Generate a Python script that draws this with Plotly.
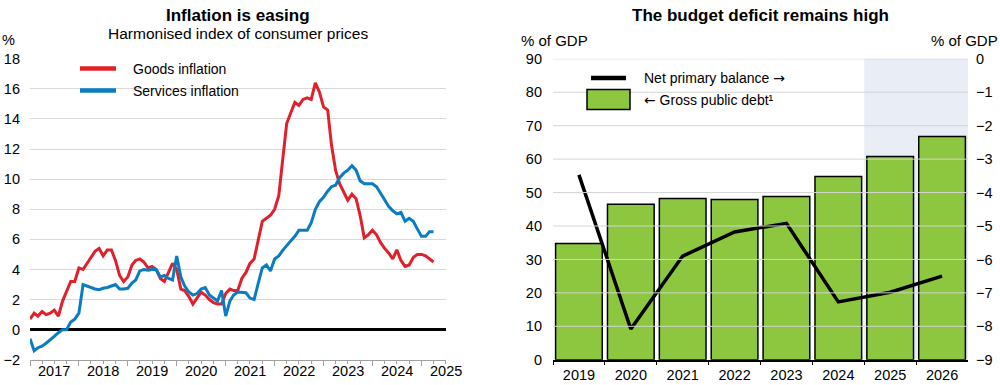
import plotly.graph_objects as go
import pandas as pd

# ---------------- data ----------------
month_start = "2017-01-01"
n_months = 100  # Jan 2017 .. Apr 2025

goods_inflation = [
    0.7, 1.1, 0.9, 1.2, 1.0, 1.1, 1.3, 0.9, 1.9, 2.6, 3.2, 3.2,      # 2017
    4.1, 4.0, 4.4, 4.8, 5.2, 5.4, 4.9, 5.3, 5.3, 4.6, 3.6, 3.2,      # 2018
    3.5, 4.3, 4.6, 4.7, 4.5, 4.1, 4.2, 4.0, 3.4, 3.2, 3.8, 4.4,      # 2019
    4.0, 2.7, 2.6, 2.2, 1.7, 2.1, 2.5, 2.3, 2.0, 1.8, 1.7, 1.7,      # 2020
    2.4, 2.7, 2.6, 2.6, 3.4, 3.8, 4.4, 4.7, 6.1, 7.2, 7.4, 7.6,      # 2021
    8.0, 8.9, 11.2, 13.7, 14.4, 15.1, 14.9, 15.3, 15.4, 15.3, 16.4, 15.8,  # 2022
    14.8, 14.6, 12.3, 10.6, 9.7, 9.1, 8.6, 9.0, 8.7, 7.6, 6.1, 6.3,  # 2023
    6.6, 6.3, 5.8, 5.4, 5.1, 4.7, 5.3, 4.6, 4.2, 4.3, 4.8, 5.0,      # 2024
    5.0, 4.9, 4.7, 4.5,                                              # 2025
]
services_inflation = [
    -0.6, -1.4, -1.2, -1.1, -0.9, -0.7, -0.45, -0.2, 0.0, 0.0, 0.5, 0.7,  # 2017
    1.1, 3.0, 2.9, 2.8, 2.7, 2.65, 2.75, 2.8, 2.9, 3.0, 2.7, 2.7,        # 2018
    2.75, 3.1, 3.3, 3.9, 4.0, 3.95, 4.0, 4.0, 3.5, 3.6, 3.4, 3.3,        # 2019
    4.9, 3.5, 2.9, 2.5, 2.3, 2.4, 2.7, 2.8, 2.3, 2.1, 1.9, 2.6,          # 2020
    0.9, 1.9, 2.3, 2.5, 2.5, 2.45, 2.1, 2.0, 3.1, 4.1, 4.3, 3.9,         # 2021
    4.7, 4.9, 5.25, 5.6, 5.9, 6.2, 6.6, 6.6, 6.6, 7.1, 8.0, 8.5,         # 2022
    8.8, 9.2, 9.5, 9.6, 10.1, 10.4, 10.6, 10.9, 10.6, 9.9, 9.7, 9.7,     # 2023
    9.7, 9.5, 9.1, 8.7, 8.2, 7.9, 7.7, 7.8, 7.2, 7.4, 7.2, 6.7,          # 2024
    6.2, 6.2, 6.5, 6.5,                                                  # 2025
]
year_labels = ["2017", "2018", "2019", "2020", "2021", "2022", "2023", "2024", "2025"]

budget_years = ["2019", "2020", "2021", "2022", "2023", "2024", "2025", "2026"]
gross_public_debt = [34.8, 46.5, 48.2, 47.9, 48.8, 54.8, 60.8, 66.8]
net_primary_balance = [-3.47, -8.08, -5.9, -5.18, -4.92, -7.27, -6.98, -6.5]
projection_years = ["2025", "2026"]

months = pd.date_range(month_start, periods=n_months, freq="MS")

# ---------------- style ----------------
W, H = 1000, 385
RED = "#E0202A"
BLUE = "#0A7CC2"
GREEN = "#8DC63F"
SHADE = "#E9EDF6"
GRID = "#D9D9D9"
FONT = "Liberation Sans, Arial, sans-serif"
ARROW_FONT = "DejaVu Sans"


def px(x):
    return x / W


def py(y):
    return 1 - y / H


fig = go.Figure()

fig.add_trace(go.Scatter(x=months, y=goods_inflation, mode="lines", name="Goods inflation",
                         line=dict(color=RED, width=3), xaxis="x", yaxis="y", showlegend=False))
fig.add_trace(go.Scatter(x=months, y=services_inflation, mode="lines", name="Services inflation",
                         line=dict(color=BLUE, width=3), xaxis="x", yaxis="y", showlegend=False))

fig.add_trace(go.Bar(x=budget_years, y=gross_public_debt, name="Gross public debt", width=0.9,
                     marker=dict(color=GREEN, line=dict(color="black", width=1.5)),
                     xaxis="x2", yaxis="y2", showlegend=False))
fig.add_trace(go.Scatter(x=budget_years, y=net_primary_balance, mode="lines", name="Net primary balance",
                         line=dict(color="black", width=3.5), xaxis="x2", yaxis="y3", showlegend=False))

ydom = [py(367), py(53)]
tickfont = dict(family=FONT, size=14.5, color="black")

year_starts = [f"{y}-01-01" for y in year_labels]

fig.update_layout(
    width=W, height=H, autosize=False,
    margin=dict(l=0, r=0, t=0, b=0),
    paper_bgcolor="white", plot_bgcolor="white",
    font=dict(family=FONT, color="black"),
    bargap=0.1,
    xaxis=dict(domain=[px(30), px(445.7)], anchor="y", type="date",
               range=["2017-01-01", "2025-07-01"],
               tickmode="array", tickvals=year_starts, showticklabels=False,
               ticks="outside", ticklen=5, tickcolor="#A0A0A0", tickwidth=1,
               showline=True, linecolor="#A0A0A0", linewidth=1, showgrid=False, zeroline=False,
               minor=dict(dtick="M3", tick0="2017-01-01", ticks="outside", ticklen=3,
                          tickcolor="#A0A0A0", showgrid=False)),
    yaxis=dict(domain=ydom, anchor="x", range=[-2, 18], dtick=2, tick0=0,
               showgrid=True, gridcolor=GRID, gridwidth=1,
               zeroline=True, zerolinecolor="black", zerolinewidth=2.5,
               showline=False, ticks="", ticklabelstandoff=9, tickfont=tickfont),
    xaxis2=dict(domain=[px(553), px(968)], anchor="y2", type="category",
                tickson="boundaries", ticks="outside", ticklen=4, tickcolor="black",
                showline=True, linecolor="black", linewidth=1.5, showgrid=False,
                tickfont=dict(family=FONT, size=14.5, color="black"), ticklabelstandoff=1),
    yaxis2=dict(domain=ydom, anchor="x2", range=[0, 90], dtick=10, showgrid=False,
                zeroline=False, showline=False, ticks="", ticklabelstandoff=10, tickfont=tickfont),
    yaxis3=dict(domain=ydom, anchor="x2", overlaying="y2", side="right", range=[-9, 0], dtick=1,
                showgrid=False, zeroline=False, showline=False, ticks="", ticklabelstandoff=7,
                tickfont=tickfont),
)

shapes = []
# projection shading
shapes.append(dict(type="rect", xref="x2", yref="y2 domain",
                   x0=budget_years.index(projection_years[0]) - 0.5,
                   x1=budget_years.index(projection_years[-1]) + 0.5,
                   y0=0, y1=1, fillcolor=SHADE, line=dict(width=0), layer="below"))
# gridlines drawn over the bars
for v in range(10, 91, 10):
    shapes.append(dict(type="line", xref="x2 domain", yref="y2", x0=0, x1=1, y0=v, y1=v,
                       line=dict(color="#D4D4D4", width=1), layer="above"))
# legend keys (left)
shapes.append(dict(type="line", xref="paper", yref="paper", x0=px(80), x1=px(116), y0=py(63), y1=py(63),
                   line=dict(color=RED, width=4.5)))
shapes.append(dict(type="line", xref="paper", yref="paper", x0=px(80), x1=px(116), y0=py(86), y1=py(86),
                   line=dict(color=BLUE, width=4.5)))
# legend keys (right)
shapes.append(dict(type="line", xref="paper", yref="paper", x0=px(591), x1=px(626), y0=py(73), y1=py(73),
                   line=dict(color="black", width=4.5)))
shapes.append(dict(type="rect", xref="paper", yref="paper", x0=px(587), x1=px(630), y0=py(106), y1=py(85),
                   fillcolor=GREEN, line=dict(color="black", width=1.5)))
fig.update_layout(shapes=shapes)

ann = []
ann.append(dict(text="<b>Inflation is easing</b>", x=px(238), y=py(8), xref="paper", yref="paper",
                xanchor="center", yanchor="middle", showarrow=False, font=dict(size=17)))
ann.append(dict(text="Harmonised index of consumer prices", x=px(238), y=py(27), xref="paper", yref="paper",
                xanchor="center", yanchor="middle", showarrow=False, font=dict(size=15.5)))
ann.append(dict(text="<b>The budget deficit remains high</b>", x=px(760), y=py(8), xref="paper", yref="paper",
                xanchor="center", yanchor="middle", showarrow=False, font=dict(size=17)))
ann.append(dict(text="%", x=px(0), y=py(33), xref="paper", yref="paper",
                xanchor="left", yanchor="middle", showarrow=False, font=dict(size=14.5)))
ann.append(dict(text="% of GDP", x=px(519), y=py(34), xref="paper", yref="paper",
                xanchor="left", yanchor="middle", showarrow=False, font=dict(size=15)))
ann.append(dict(text="% of GDP", x=1.0, y=py(34), xref="paper", yref="paper",
                xanchor="right", yanchor="middle", showarrow=False, font=dict(size=15)))
# year labels centred in each year
for lab in year_labels:
    ann.append(dict(text=lab, x=f"{lab}-07-01", y=py(379), xref="x", yref="paper",
                    xanchor="center", yanchor="middle", showarrow=False, font=dict(size=14.5)))
# legend texts
ann.append(dict(text="Goods inflation", x=px(131), y=py(63.5), xref="paper", yref="paper",
                xanchor="left", yanchor="middle", showarrow=False, font=dict(size=14)))
ann.append(dict(text="Services inflation", x=px(131), y=py(86.5), xref="paper", yref="paper",
                xanchor="left", yanchor="middle", showarrow=False, font=dict(size=14)))
ann.append(dict(text=f"Net primary balance <span style='font-family:{ARROW_FONT}'>\u2192</span>",
                x=px(642), y=py(73), xref="paper", yref="paper",
                xanchor="left", yanchor="middle", showarrow=False, font=dict(size=14)))
ann.append(dict(text=f"<span style='font-family:{ARROW_FONT}'>\u2190</span> Gross public debt\u00b9",
                x=px(642), y=py(95.5), xref="paper", yref="paper",
                xanchor="left", yanchor="middle", showarrow=False, font=dict(size=14)))
fig.update_layout(annotations=ann)

post = (
    "document.documentElement.style.margin='0';"
    "document.body.style.margin='0';document.body.style.padding='0';"
    "var d=document.getElementsByClassName('plotly-graph-div')[0];"
    "if(d){d.style.position='fixed';d.style.left='0px';d.style.top='0px';}"
)
fig.write_html("out.html", config={"displayModeBar": False}, post_script=post)
